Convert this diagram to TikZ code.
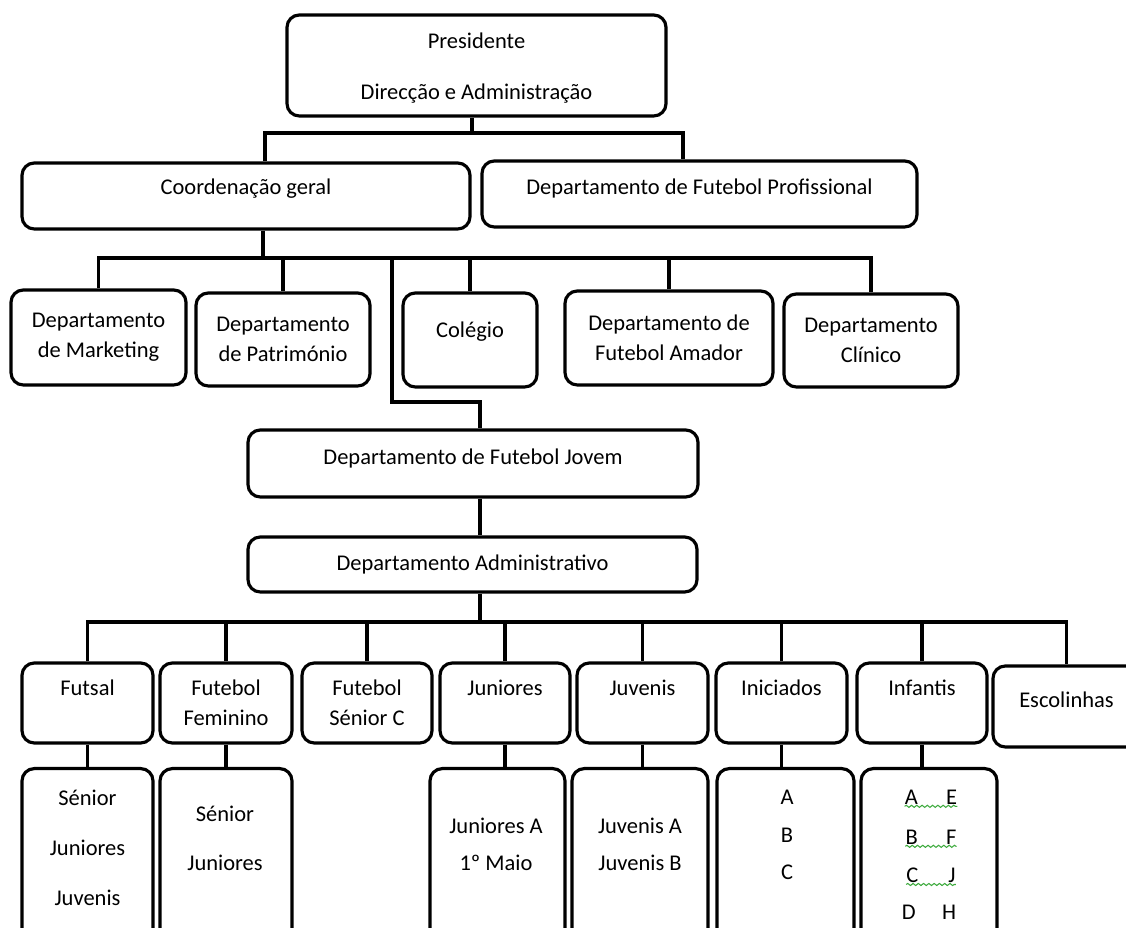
\documentclass[tikz,border=0pt]{standalone}
\usepackage{fontspec}
\setmainfont{Carlito}
\usetikzlibrary{decorations.pathmorphing}
\definecolor{spellgreen}{HTML}{3DAA3D}
\newcommand{\orgfont}{\fontsize{12.8}{17}\selectfont}

\begin{document}
\begin{tikzpicture}[
    x=0.02cm, y=-0.02cm,
    box/.style={rectangle, rounded corners=7pt, draw, line width=1.8pt,
                align=center, font=\orgfont, inner sep=0pt},
    cell/.style 2 args={minimum width=#1*0.02cm, minimum height=#2*0.02cm},
    txt/.style={align=center, font=\orgfont, inner sep=0pt},
    link/.style={line width=1.8pt},
    spell/.style={spellgreen, line width=0.6pt, decorate,
                  decoration={snake, amplitude=0.6pt, segment length=3pt}}
  ]
    \useasboundingbox (0,0) rectangle (1126,928);
    \clip (0,0) rectangle (1126,928);

    \node[box, cell={379}{101}] (pres) at (476.5,65.5) {\rule{0pt}{12pt}Presidente\\[12.3pt]Direcção e Administração};
    \node[box, cell={448}{66}] (coord) at (246,196) {Coordenação geral\\[-6.5pt]\mbox{}};
    \node[box, cell={435}{66}] (prof) at (699.5,194) {Departamento de Futebol Profissional\\[-8.8pt]\mbox{}};

    \node[box, cell={175}{95}] (mkt) at (98.5,337.5) {Departamento\\de Marketing};
    \node[box, cell={174}{93}] (pat) at (283,339.5) {Departamento\\de Património};
    \node[box, cell={134}{94}] (col) at (470,340) {Colégio\\[-5pt]\mbox{}};
    \node[box, cell={208}{94}] (ama) at (669,338) {Departamento de\\Futebol Amador};
    \node[box, cell={174}{93}] (clin) at (871,340.5) {Departamento\\Clínico};

    \node[box, cell={450}{67}] (jov) at (473,463.5) {Departamento de Futebol Jovem\\[-8.8pt]\mbox{}};
    \node[box, cell={449}{55}] (adm) at (472.5,564.5) {Departamento Administrativo};

    \node[box, cell={131}{80}] (futsal) at (87.5,703) {Futsal\\\mbox{}};
    \node[box, cell={132}{80}] (fem) at (226,703) {Futebol\\Feminino};
    \node[box, cell={130}{80}] (sen) at (367,703) {Futebol\\Sénior C};
    \node[box, cell={130}{80}] (jun) at (505,703) {Juniores\\\mbox{}};
    \node[box, cell={131}{80}] (juv) at (642.5,703) {Juvenis\\\mbox{}};
    \node[box, cell={131}{80}] (ini) at (781.5,703) {Iniciados\\\mbox{}};
    \node[box, cell={130}{80}] (inf) at (922,703) {Infantis\\\mbox{}};
    \node[box, cell={147}{81}] (esc) at (1066.5,706.5) {Escolinhas\\[-9pt]\mbox{}};

    \node[box, cell={131}{200}, anchor=north] (futsalsub) at (87.5,767) {};
    \node[box, cell={132}{200}, anchor=north] (femsub) at (226,767) {};
    \node[box, cell={135}{200}, anchor=north] (junsub) at (497.5,767) {};
    \node[box, cell={136}{200}, anchor=north] (juvsub) at (640,767) {};
    \node[box, cell={137}{200}, anchor=north] (inisub) at (785.5,767) {};
    \node[box, cell={136}{200}, anchor=north] (infsub) at (929,767) {};

    \node[txt] (futsallist) at (87.5,848) {Sénior\\[11.6pt]Juniores\\[11.6pt]Juvenis};
    \node[txt] (femlist) at (225,838) {Sénior\\[11pt]Juniores};
    \node[txt] (junlist) at (496,844) {Juniores A\\[4pt]1º Maio};
    \node[txt] (juvlist) at (640,844) {Juvenis A\\[4pt]Juvenis B};
    \node[txt] (inilist) at (787,835) {A\\[4.5pt]B\\[4.5pt]C};
    \node[txt] (infa) at (931,797) {A\hspace{16pt}E};
    \node[txt] (infb) at (931,837) {B\hspace{16pt}F};
    \node[txt] (infc) at (931,875) {C\hspace{17pt}J};
    \node[txt] (infd) at (929,912) {D\hspace{15pt}H};

    \draw[spell] ([yshift=-1pt]infa.south west) -- ([yshift=-1pt]infa.south east);
    \draw[spell] ([yshift=-1pt]infb.south west) -- ([yshift=-1pt]infb.south east);
    \draw[spell] ([yshift=-1pt]infc.south west) -- ([yshift=-1pt]infc.south east);

    \coordinate (bar1) at (472,133);
    \coordinate (bar1L) at (265,133);
    \coordinate (bar1R) at (683,133);
    \coordinate (bar2) at (263,258);
    \coordinate (jovbend) at (392,402);
    \coordinate (bar3) at (480,622);

    \draw[link] (pres.south -| bar1) -- (bar1);
    \draw[link] (coord.north -| bar1L) -- (bar1L) -- (bar1R) -- (prof.north -| bar1R);

    \draw[link] (coord.south -| bar2) -- (bar2);
    \draw[link] (mkt.north) |- (bar2) -| (clin.north);
    \draw[link] (pat.north) -- (pat.north |- bar2);
    \draw[link] (col.north) -- (col.north |- bar2);
    \draw[link] (ama.north) -- (ama.north |- bar2);
    \draw[link] (jovbend |- bar2) -- (jovbend) -| (jov.north -| bar3);

    \draw[link] (jov.south -| bar3) -- (adm.north -| bar3);
    \draw[link] (adm.south -| bar3) -- (bar3);
    \draw[link] (futsal.north) |- (bar3) -| (esc.north);
    \draw[link] (fem.north) -- (fem.north |- bar3);
    \draw[link] (sen.north) -- (sen.north |- bar3);
    \draw[link] (jun.north) -- (jun.north |- bar3);
    \draw[link] (juv.north) -- (juv.north |- bar3);
    \draw[link] (ini.north) -- (ini.north |- bar3);
    \draw[link] (inf.north) -- (inf.north |- bar3);

    \draw[link] (futsal.south) -- (futsal.south |- futsalsub.north);
    \draw[link] (fem.south) -- (fem.south |- femsub.north);
    \draw[link] (jun.south) -- (jun.south |- junsub.north);
    \draw[link] (juv.south) -- (juv.south |- juvsub.north);
    \draw[link] (ini.south) -- (ini.south |- inisub.north);
    \draw[link] (inf.south) -- (inf.south |- infsub.north);
  \end{tikzpicture}
\end{document}
